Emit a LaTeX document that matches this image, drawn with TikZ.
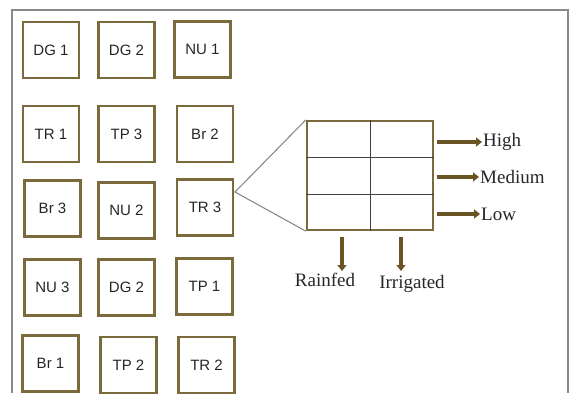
\documentclass[tikz,border=0pt]{standalone}
\usepackage{fontspec}
\setmainfont{Liberation Serif}
\newfontfamily\boxfont{Liberation Sans}
\usetikzlibrary{arrows.meta,calc}
\definecolor{plotbrown}{HTML}{7B6A3C}
\definecolor{arrowbrown}{HTML}{6A5424}
\definecolor{framegray}{HTML}{8A8A8A}
\begin{document}
\begin{tikzpicture}[x=1pt,y=-1pt,
  plot/.style={draw=plotbrown,line width=2.3pt,minimum width=56pt,minimum height=56pt,
    inner sep=0pt,font=\boxfont\fontsize{15}{15}\selectfont,text=black!85},
  flow/.style={draw=arrowbrown,line width=3.4pt,-{Triangle[length=6pt,width=9pt]}},
  lab/.style={font=\fontsize{19}{19}\selectfont,text=black!85,inner sep=1pt}]
\useasboundingbox (0,0) rectangle (569,393);
% outer frame
\draw[framegray,line width=1.2pt] (12,393) -- (12,10) -- (568,10) -- (568,393);
% field plots
\node[plot] (dg1) at (51,50) {DG 1};
\node[plot] (dg2a) at (126.5,50) {DG 2};
\node[plot] (nu1) at (202.5,49.5) {NU 1};
\node[plot] (tr1) at (51,134) {TR 1};
\node[plot] (tp3) at (126.5,134) {TP 3};
\node[plot] (br2) at (205,134) {Br 2};
\node[plot] (br3) at (52.5,208.5) {Br 3};
\node[plot] (nu2) at (126.5,210.5) {NU 2};
\node[plot] (tr3) at (205,207.5) {TR 3};
\node[plot] (nu3) at (52.5,287.5) {NU 3};
\node[plot] (dg2b) at (126.5,287.5) {DG 2};
\node[plot] (tp1) at (204.5,286.5) {TP 1};
\node[plot] (br1) at (50.5,363.5) {Br 1};
\node[plot] (tp2) at (128.5,365) {TP 2};
\node[plot] (tr2) at (206.5,365) {TR 2};
% enlarged plot split into 2 x 3 cells
\node[draw=plotbrown,line width=2.3pt,minimum width=126pt,minimum height=109pt,inner sep=0pt]
  (grid) at (370,175.5) {};
\draw[black!75,line width=1pt]
  ($(grid.north)$) -- ($(grid.south)$)
  ($(grid.north west)!0.335!(grid.south west)$) -- ($(grid.north east)!0.335!(grid.south east)$)
  ($(grid.north west)!0.67!(grid.south west)$) -- ($(grid.north east)!0.67!(grid.south east)$);
\coordinate (apex) at (235,192);
\draw[framegray,line width=1.1pt] (grid.north west) -- (apex) -- (grid.south west);
% levels
\node[lab,anchor=west] (high) at (482,142) {High};
\node[lab,anchor=west] (med) at (479,177) {Medium};
\node[lab,anchor=west] (low) at (480,214) {Low};
\coordinate (h0) at (437,142);
\coordinate (m0) at (437,177);
\coordinate (l0) at (437,214);
\draw[flow] (h0) -- (high.west);
\draw[flow] (m0) -- (med.west);
\draw[flow] (l0) -- (low.west);
% water regimes
\node[lab,anchor=north] (rain) at (325,272) {Rainfed};
\node[lab,anchor=north] (irr) at (412,274) {Irrigated};
\coordinate (r0) at (342,237);
\coordinate (i0) at (401,237);
\draw[flow] (r0) -- (342,271);
\draw[flow] (i0) -- (401,271);
\end{tikzpicture}
\end{document}
